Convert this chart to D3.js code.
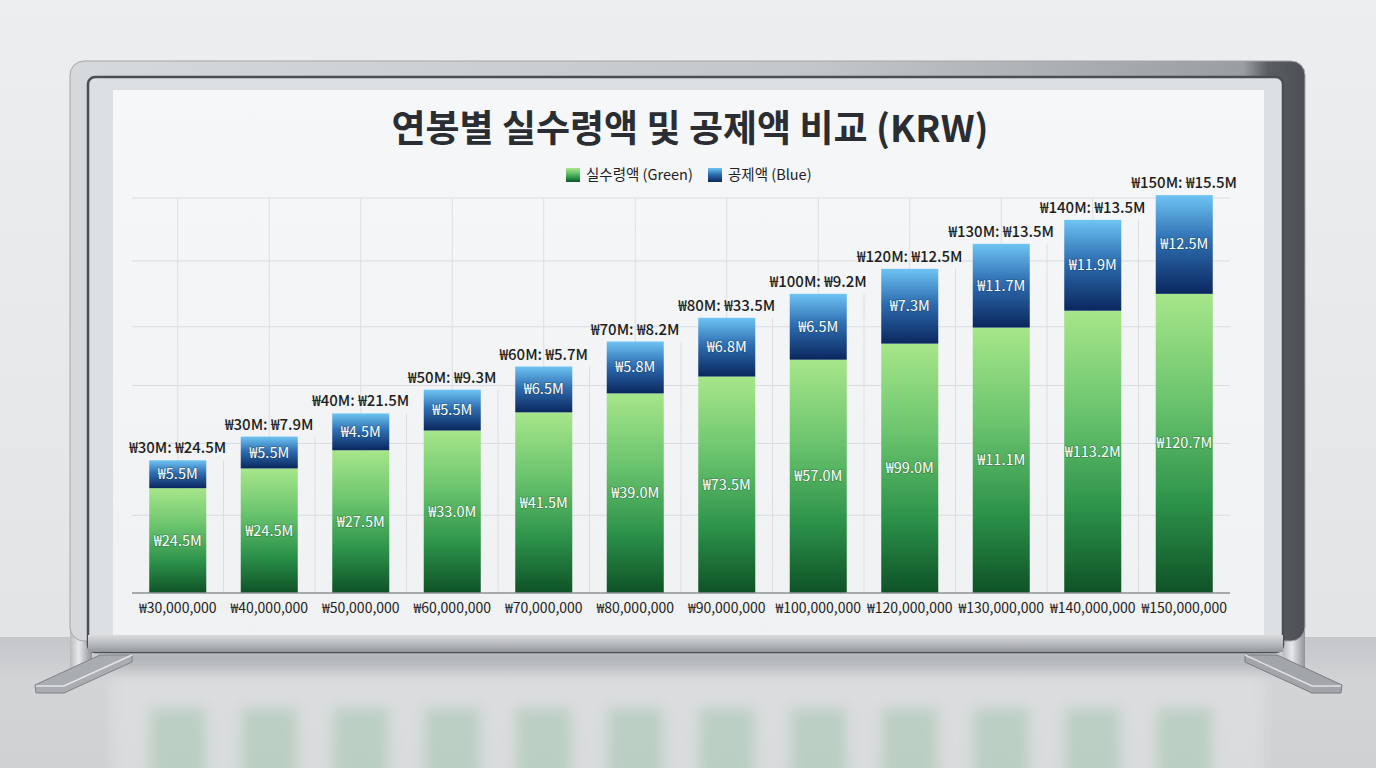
<!DOCTYPE html>
<html>
<head>
<meta charset="utf-8">
<script src="https://cdn.jsdelivr.net/npm/d3@7"></script>
<style>
  body { margin: 0; background: #e6e8ea; }
  svg { display: block; font-family: "Noto Sans CJK KR", "Noto Sans", sans-serif; }
</style>
</head>
<body>
<svg width="1376" height="768"></svg>
<script>
// data (millions of KRW)
var salaries = ['₩30,000,000', '₩40,000,000', '₩50,000,000', '₩60,000,000', '₩70,000,000', '₩80,000,000',
    '₩90,000,000', '₩100,000,000', '₩120,000,000', '₩130,000,000', '₩140,000,000', '₩150,000,000'];
var netPay = [39.8, 47.3, 54.2, 61.7, 68.6, 75.8, 82.2, 88.6, 94.7, 100.8, 107.2, 113.6];
var deductions = [10.6, 12.1, 14.0, 15.5, 17.4, 19.7, 22.3, 25.0, 28.4, 31.8, 34.5, 37.5];
var netLabels = ['₩24.5M', '₩24.5M', '₩27.5M', '₩33.0M', '₩41.5M', '₩39.0M', '₩73.5M', '₩57.0M', '₩99.0M', '₩11.1M', '₩113.2M', '₩120.7M'];
var deductLabels = ['₩5.5M', '₩5.5M', '₩4.5M', '₩5.5M', '₩6.5M', '₩5.8M', '₩6.8M', '₩6.5M', '₩7.3M', '₩11.7M', '₩11.9M', '₩12.5M'];
var topLabels = ['₩30M: ₩24.5M', '₩30M: ₩7.9M', '₩40M: ₩21.5M', '₩50M: ₩9.3M', '₩60M: ₩5.7M', '₩70M: ₩8.2M',
    '₩80M: ₩33.5M', '₩100M: ₩9.2M', '₩120M: ₩12.5M', '₩130M: ₩13.5M', '₩140M: ₩13.5M', '₩150M: ₩15.5M'];
var gridValues = [29.5, 56.8, 78.8, 101.1, 126.1, 150];
var seriesNames = ['실수령액 (Green)', '공제액 (Blue)'];

var svg = d3.select('svg');
var defs = svg.append('defs');

function grad(id, stops, horizontal) {
    var g = defs.append('linearGradient').attr('id', id)
        .attr('x1', 0).attr('y1', 0)
        .attr('x2', horizontal ? 1 : 0).attr('y2', horizontal ? 0 : 1);
    stops.forEach(function (s) {
        g.append('stop').attr('offset', s[0]).attr('stop-color', s[1]);
    });
}
grad('wall', [[0, '#eceef0'], [1, '#e2e4e6']]);
grad('floor', [[0, '#c4c7ca'], [0.35, '#d2d4d6'], [1, '#cfd1d3']]);
grad('frame', [[0, '#d6d9db'], [0.6, '#c4c7ca'], [0.95, '#9a9da1'], [0.97, '#5a5d61'], [1, '#4c4f53']], true);
grad('bottomBar', [[0, '#d8dadc'], [0.5, '#b9bcbf'], [1, '#94979b']]);
grad('panel', [[0, '#f6f7f8'], [1, '#eff1f2']]);
grad('post', [[0, '#b8bbbe'], [0.4, '#e6e8ea'], [1, '#8f9296']], true);
grad('green', [[0, '#a7e68a'], [0.35, '#6cc56e'], [0.7, '#2c924a'], [1, '#0e5226']]);
grad('blue', [[0, '#6ec4f3'], [0.45, '#2f6fb3'], [1, '#0a275e']]);

defs.append('filter').attr('id', 'blur').attr('x', -0.2).attr('y', -0.2).attr('width', 1.4).attr('height', 1.4)
    .append('feGaussianBlur').attr('stdDeviation', 7);
defs.append('filter').attr('id', 'soft').attr('x', -0.2).attr('y', -1).attr('width', 1.4).attr('height', 3)
    .append('feGaussianBlur').attr('stdDeviation', 8);
defs.append('clipPath').attr('id', 'floorClip')
    .append('rect').attr('x', 0).attr('y', 660).attr('width', 1376).attr('height', 108);

// room
svg.append('rect').attr('width', 1376).attr('height', 637).attr('fill', 'url(#wall)');
svg.append('rect').attr('y', 637).attr('width', 1376).attr('height', 131).attr('fill', 'url(#floor)');

// scales
var x = d3.scaleBand().domain(salaries).range([132, 1230]).paddingInner(0.377).paddingOuter(0.1885);
var y = d3.scaleLinear().domain([0, 150]).range([593, 198]);

var stacked = d3.stack().keys(['net', 'deduct'])(salaries.map(function (s, i) {
    return { salary: s, net: netPay[i], deduct: deductions[i] };
}));

// floor reflection of the board
var refl = svg.append('g').attr('clip-path', 'url(#floorClip)')
    .append('g').attr('transform', 'translate(0,1300) scale(1,-1)')
    .attr('filter', 'url(#blur)').attr('opacity', 0.3);
refl.append('rect').attr('x', 113).attr('y', 440).attr('width', 1150).attr('height', 195).attr('fill', '#f2f3f4');
refl.selectAll('rect.r')
    .data(stacked[0])
    .enter()
    .append('rect')
    .attr('class', 'r')
    .attr('x', function (d) { return x(d.data.salary); })
    .attr('y', function (d) { return y(d[1]); })
    .attr('width', x.bandwidth())
    .attr('height', function (d) { return y(d[0]) - y(d[1]); })
    .attr('fill', '#8ccaa0');

// shadow under board
svg.append('rect').attr('x', 110).attr('y', 652).attr('width', 1160).attr('height', 18)
    .attr('fill', '#7d8387').attr('opacity', 0.4).attr('filter', 'url(#soft)');

// legs
[70, 1283].forEach(function (px) {
    svg.append('rect').attr('x', px).attr('y', 90).attr('width', 22).attr('height', 578).attr('fill', 'url(#post)');
});
svg.append('path').attr('d', 'M100,655 L132,655 L132,662 L64,693 L36,693 L35,685 Z').attr('fill', '#a9acb0').attr('stroke', '#7f8286');
svg.append('path').attr('d', 'M36,686 L64,686 L132,655').attr('fill', 'none').attr('stroke', '#e4e6e8').attr('stroke-width', 1.5);
svg.append('path').attr('d', 'M1245,655 L1277,655 L1342,685 L1341,693 L1312,693 L1245,662 Z').attr('fill', '#a2a5a9').attr('stroke', '#7a7d81');
svg.append('path').attr('d', 'M1245,655 L1312,686 L1341,686').attr('fill', 'none').attr('stroke', '#dfe1e3').attr('stroke-width', 1.5);

// frame
svg.append('rect').attr('x', 70).attr('y', 61).attr('width', 1235).attr('height', 580).attr('rx', 14)
    .attr('fill', 'url(#frame)').attr('stroke', '#a3a6aa').attr('stroke-width', 1);
svg.append('rect').attr('x', 88).attr('y', 77).attr('width', 1195).attr('height', 575).attr('rx', 7)
    .attr('fill', '#dde0e2').attr('stroke', '#4a4d51').attr('stroke-width', 2.5);
svg.append('rect').attr('x', 88).attr('y', 635).attr('width', 1195).attr('height', 17).attr('fill', 'url(#bottomBar)');
svg.append('rect').attr('x', 113).attr('y', 90).attr('width', 1151).attr('height', 545).attr('fill', 'url(#panel)');

var chart = svg.append('g');

// grid
chart.selectAll('line.h')
    .data(gridValues)
    .enter()
    .append('line')
    .attr('x1', 132).attr('x2', 1230)
    .attr('y1', function (d) { return y(d); })
    .attr('y2', function (d) { return y(d); })
    .attr('stroke', '#d9dde0');

chart.selectAll('line.v')
    .data(salaries)
    .enter()
    .append('line')
    .attr('x1', function (d) { return x(d) + x.bandwidth() / 2; })
    .attr('x2', function (d) { return x(d) + x.bandwidth() / 2; })
    .attr('y1', y(150)).attr('y2', y(0))
    .attr('stroke', '#dcdfe2');

chart.selectAll('line.b')
    .data(stacked[1].slice(0, -1))
    .enter()
    .append('line')
    .attr('x1', function (d) { return x(d.data.salary) + x.step() - (x.step() - x.bandwidth()) / 2; })
    .attr('x2', function (d) { return x(d.data.salary) + x.step() - (x.step() - x.bandwidth()) / 2; })
    .attr('y1', function (d) { return y(d[1]); })
    .attr('y2', y(0))
    .attr('stroke', '#dcdfe2');

// bars
var fills = ['url(#green)', 'url(#blue)'];
stacked.forEach(function (layer, k) {
    chart.selectAll('rect.s' + k)
        .data(layer)
        .enter()
        .append('rect')
        .attr('class', 's' + k)
        .attr('x', function (d) { return x(d.data.salary); })
        .attr('y', function (d) { return y(d[1]); })
        .attr('width', x.bandwidth())
        .attr('height', function (d) { return y(d[0]) - y(d[1]); })
        .attr('fill', fills[k]);
});

// labels inside segments
var inner = [netLabels, deductLabels];
stacked.forEach(function (layer, k) {
    chart.selectAll('text.l' + k)
        .data(layer)
        .enter()
        .append('text')
        .attr('x', function (d) { return x(d.data.salary) + x.bandwidth() / 2; })
        .attr('y', function (d) { return (y(d[0]) + y(d[1])) / 2 + 5; })
        .attr('text-anchor', 'middle')
        .attr('font-size', 14.5)
        .attr('fill', '#fff')
        .style('paint-order', 'stroke')
        .attr('stroke', 'rgba(0,40,20,0.25)')
        .attr('stroke-width', 1.5)
        .text(function (d, i) { return inner[k][i]; });
});

chart.selectAll('text.top')
    .data(stacked[1])
    .enter()
    .append('text')
    .attr('x', function (d) { return x(d.data.salary) + x.bandwidth() / 2; })
    .attr('y', function (d) { return y(d[1]) - 7; })
    .attr('text-anchor', 'middle')
    .attr('font-size', 15)
    .attr('font-weight', 500)
    .attr('fill', '#1c1e21')
    .text(function (d, i) { return topLabels[i]; });

// x axis
var xAxis = chart.append('g')
    .attr('transform', 'translate(0,593)')
    .call(d3.axisBottom(x).tickSize(0).tickPadding(10));
xAxis.select('.domain').remove();
xAxis.selectAll('text')
    .attr('font-family', '"Noto Sans CJK KR", "Noto Sans", sans-serif')
    .attr('font-size', 14)
    .attr('fill', '#222');
chart.append('line').attr('x1', 132).attr('x2', 1230).attr('y1', 593).attr('y2', 593)
    .attr('stroke', '#8e9296').attr('stroke-width', 1.5);

// title
svg.append('text')
    .attr('x', 690)
    .attr('y', 142)
    .attr('text-anchor', 'middle')
    .attr('font-size', 37)
    .attr('font-weight', 700)
    .attr('fill', '#2a2d31')
    .text('연봉별 실수령액 및 공제액 비교 (KRW)');

// legend
var legend = svg.append('g').attr('transform', 'translate(566,168)');
legend.append('rect').attr('width', 14).attr('height', 14).attr('fill', 'url(#green)');
legend.append('text').attr('x', 20).attr('y', 12).attr('font-size', 14.5).attr('fill', '#222').text(seriesNames[0]);
legend.append('rect').attr('x', 142).attr('width', 14).attr('height', 14).attr('fill', 'url(#blue)');
legend.append('text').attr('x', 162).attr('y', 12).attr('font-size', 14.5).attr('fill', '#222').text(seriesNames[1]);
</script>
</body>
</html>
